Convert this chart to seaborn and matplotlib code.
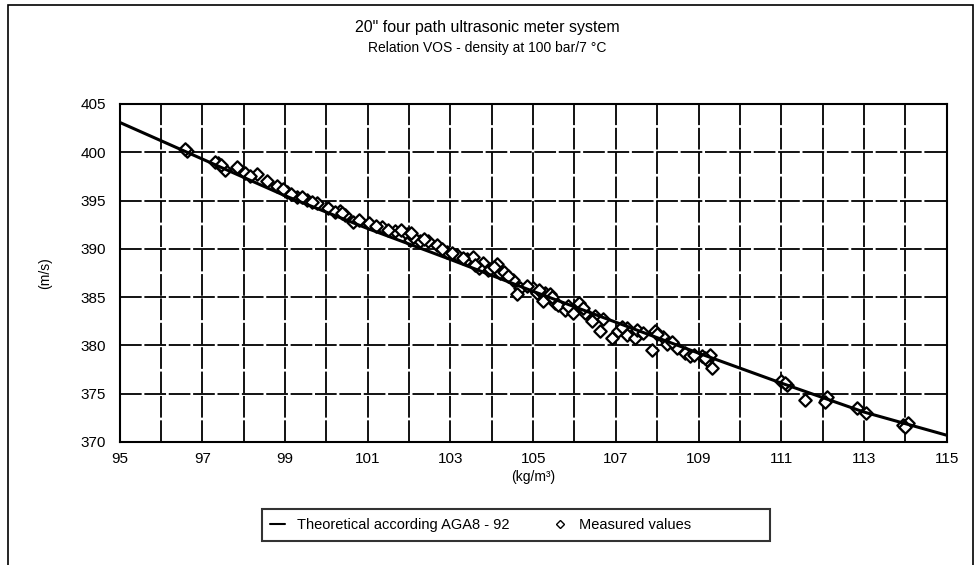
import matplotlib
matplotlib.use("Agg")
import matplotlib.pyplot as plt
import seaborn as sns
import pandas as pd
from matplotlib.lines import Line2D
from matplotlib.patches import Rectangle

# theoretical curve (AGA8-92), read at odd densities
theory_density = [95, 97, 99, 101, 103, 105, 107, 109, 111, 113, 115]
theory_vos = [403.1, 399.3, 395.5, 392.1, 388.9, 385.6, 382.4, 379.2, 376.1, 373.1, 370.7]

# measured values
meas_density = [96.62, 97.39, 97.55, 97.83, 98.03, 98.32, 98.56, 98.80, 99.04, 99.28,
                99.53, 99.77, 100.05, 100.33, 100.45, 100.65, 101.02, 101.34, 101.66, 101.94,
                102.02, 102.27, 102.47, 102.67, 102.91, 103.15, 103.39, 103.55, 103.80, 104.12,
                103.92, 104.20, 104.52, 104.68, 104.60, 105.00, 105.09, 105.29, 105.41, 105.25,
                105.53, 105.77, 106.05, 105.97, 106.25, 106.50, 106.42, 106.62, 106.90, 107.06,
                107.26, 107.26, 107.46, 107.50, 107.87, 107.95, 108.15, 108.23, 108.47, 108.67,
                108.79, 109.08, 109.20, 109.32, 109.28, 111.00, 111.13, 111.57, 112.08, 112.11,
                112.82, 113.05, 113.95, 114.07, 97.30, 99.15, 100.20, 101.50, 102.10, 103.70,
                104.30, 105.60, 106.10, 108.00,
                96.58, 97.45, 98.15, 98.95, 99.40, 99.65, 100.38, 100.80, 101.20, 101.80,
                102.05, 102.35, 102.80, 103.05, 103.30, 103.60, 103.95, 104.05, 104.40, 104.85,
                105.15, 105.45, 105.85, 106.20, 106.70, 107.15, 107.65, 108.35, 108.90, 109.15,
                111.08, 112.05, 113.98]
meas_vos = [400.1, 398.9, 398.2, 398.5, 397.8, 397.7, 397.0, 396.5, 395.9, 395.4,
            395.1, 394.7, 394.2, 393.9, 393.5, 392.8, 392.7, 392.3, 391.8, 391.5,
            390.9, 390.8, 390.8, 390.4, 389.7, 389.4, 388.9, 389.2, 388.5, 388.4,
            387.8, 387.5, 386.8, 385.9, 385.3, 385.9, 385.4, 385.4, 385.3, 384.6,
            384.4, 383.7, 384.0, 383.4, 383.4, 383.0, 382.5, 381.5, 380.8, 381.5,
            381.8, 381.1, 380.8, 381.6, 379.5, 381.5, 380.9, 380.1, 379.7, 379.2,
            378.9, 378.9, 378.5, 377.7, 379.0, 376.3, 375.9, 374.4, 374.4, 374.7,
            373.5, 373.0, 371.8, 372.0, 399.0, 395.7, 393.8, 392.0, 391.2, 388.0,
            387.6, 384.2, 384.4, 381.2,
            400.3, 398.7, 397.5, 396.2, 395.4, 394.9, 393.7, 393.0, 392.4, 391.9,
            391.6, 391.0, 390.0, 389.6, 389.1, 388.3, 387.9, 388.1, 387.2, 386.2,
            385.7, 385.0, 384.1, 383.9, 382.7, 381.9, 381.3, 380.4, 379.0, 378.7,
            376.1, 374.1, 371.6]

theory = pd.DataFrame({"density": theory_density, "vos": theory_vos})
measured = pd.DataFrame({"density": meas_density, "vos": meas_vos})

sns.set_style("white")
plt.rcParams["font.family"] = ["Liberation Sans", "DejaVu Sans"]
plt.rcParams["text.color"] = "black"
plt.rcParams["axes.labelcolor"] = "black"

fig = plt.figure(figsize=(9.75, 5.65), dpi=100)
ax = fig.add_axes([0.1226, 0.2177, 0.8484, 0.5983])

sns.scatterplot(data=measured, x="density", y="vos", ax=ax, marker="D", s=40,
                color="white", edgecolor="black", linewidth=1.6, zorder=3)
sns.lineplot(data=theory, x="density", y="vos", ax=ax, color="black", lw=2.2,
             zorder=4)

ax.set_xlim(95, 115)
ax.set_ylim(370, 405)
ax.set_xticks(range(95, 116, 2))
ax.set_xticks(range(96, 115, 2), minor=True)
ax.set_yticks(range(370, 406, 5))
ax.grid(True, which="both", color="black", lw=1.3, ls=(0, (12, 1.5)))
ax.set_axisbelow(True)
for s in ax.spines.values():
    s.set_color("black")
    s.set_linewidth(1.5)
ax.tick_params(axis="both", which="both", length=0, labelsize=11, colors="black")
ax.tick_params(axis="y", pad=10)
ax.tick_params(axis="x", pad=7)

ax.set_xlabel("(kg/m\u00b3)", fontsize=10, labelpad=3)
ax.set_ylabel("(m/s)", fontsize=10, labelpad=20)

fig.text(0.5, 0.943, "20\" four path ultrasonic meter system", ha="center", fontsize=11.5)
fig.text(0.5, 0.908, "Relation VOS - density at 100 bar/7 \u00b0C", ha="center", fontsize=10)

handles = [Line2D([0], [0], color="black", lw=1.5),
           Line2D([0], [0], marker="D", color="black", markerfacecolor="white",
                  markersize=4, lw=0)]
leg = fig.legend(handles, ["Theoretical according AGA8 - 92", "Measured values"],
                 loc="center", bbox_to_anchor=(0.529, 0.071), ncol=2, fontsize=10.5,
                 frameon=True, fancybox=False, shadow=False, handlelength=1.0,
                 handletextpad=0.8, columnspacing=3.0, borderpad=0.6,
                 borderaxespad=0)
leg.get_frame().set_edgecolor("black")
leg.get_frame().set_linewidth(1.5)
# reference legend box is wider, with blank space on the right
leg._legend_box.align = "left"
for t in leg.get_texts()[1:]:
    t.set_text(t.get_text() + "                 ")

# outer chart border
fig.patches.append(Rectangle((0.008, -0.02), 0.99, 1.011, transform=fig.transFigure,
                             fill=False, edgecolor="black", lw=1.2))

fig.savefig("out.png", dpi=100, facecolor="white")
